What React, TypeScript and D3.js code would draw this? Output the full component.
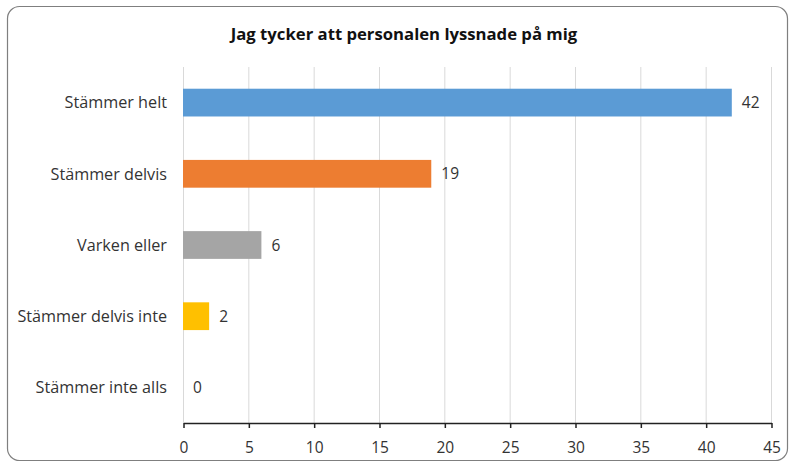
import { useEffect, useRef } from 'react';
import * as d3 from 'd3';

const categories = ['Stämmer helt', 'Stämmer delvis', 'Varken eller', 'Stämmer delvis inte', 'Stämmer inte alls'];
const values = [42, 19, 6, 2, 0];
const colors = ['#5B9BD5', '#ED7D31', '#A5A5A5', '#FFC000', '#4472C4'];
const xTicks = [0, 5, 10, 15, 20, 25, 30, 35, 40, 45];
const title = 'Jag tycker att personalen lyssnade på mig';

export default function App() {
  const svgRef = useRef<SVGSVGElement>(null);

  useEffect(() => {
    document.body.style.margin = '0';
    const svg = d3.select(svgRef.current);
    const width = 792;
    const height = 466;
    const margin = { top: 67, right: 21, bottom: 43, left: 183 };
    const font = '"Open Sans", sans-serif';

    svg.attr('width', width).attr('height', height);
    svg.selectAll('*').remove();

    svg
      .append('rect')
      .attr('x', 7.5)
      .attr('y', 6.5)
      .attr('width', 780)
      .attr('height', 454)
      .attr('rx', 12)
      .attr('fill', '#fff')
      .attr('stroke', '#7f7f7f')
      .attr('stroke-width', 1.2);

    const x = d3.scaleLinear().domain([0, 45]).range([margin.left, width - margin.right]);
    const y = d3
      .scaleBand()
      .domain(categories)
      .range([margin.top, height - margin.bottom])
      .paddingInner(0.61)
      .paddingOuter(0.305);

    svg
      .append('text')
      .attr('x', 404)
      .attr('y', 40)
      .attr('text-anchor', 'middle')
      .attr('font-family', font)
      .attr('font-weight', 'bold')
      .attr('font-size', 16.7)
      .attr('fill', '#111')
      .text(title);

    // gridlines
    svg
      .append('g')
      .selectAll('line')
      .data(xTicks)
      .join('line')
      .attr('x1', (d) => x(d) + 0.5)
      .attr('x2', (d) => x(d) + 0.5)
      .attr('y1', margin.top)
      .attr('y2', height - margin.bottom)
      .attr('stroke', '#d9d9d9');

    svg
      .append('g')
      .selectAll('rect')
      .data(values)
      .join('rect')
      .attr('x', x(0))
      .attr('y', (d, i) => y(categories[i])!)
      .attr('width', (d) => x(d) - x(0))
      .attr('height', y.bandwidth())
      .attr('fill', (d, i) => colors[i]);

    svg
      .append('g')
      .selectAll('text')
      .data(values)
      .join('text')
      .attr('x', (d) => x(d) + 10)
      .attr('y', (d, i) => y(categories[i])! + y.bandwidth() / 2)
      .attr('dy', '0.36em')
      .attr('font-family', font)
      .attr('font-size', 15.5)
      .attr('fill', '#333')
      .text((d) => d);

    svg
      .append('g')
      .selectAll('text')
      .data(categories)
      .join('text')
      .attr('x', x(0) - 16)
      .attr('y', (d) => y(d)! + y.bandwidth() / 2)
      .attr('dy', '0.36em')
      .attr('text-anchor', 'end')
      .attr('font-family', font)
      .attr('font-size', 16.2)
      .attr('fill', '#333')
      .text((d) => d);

    const xAxis = svg
      .append('g')
      .attr('transform', `translate(0.5,${height - margin.bottom})`)
      .call(d3.axisBottom(x).tickValues(xTicks).tickSize(5).tickSizeOuter(0).tickPadding(14));
    xAxis.select('.domain').attr('stroke', '#222').attr('stroke-width', 1.5);
    xAxis.selectAll('.tick line').attr('stroke', '#222').attr('stroke-width', 1.5);
    xAxis
      .selectAll('.tick text')
      .attr('font-family', font)
      .attr('font-size', 15.5)
      .attr('fill', '#333');
  }, []);

  return <svg ref={svgRef} style={{ display: 'block' }}></svg>;
}
